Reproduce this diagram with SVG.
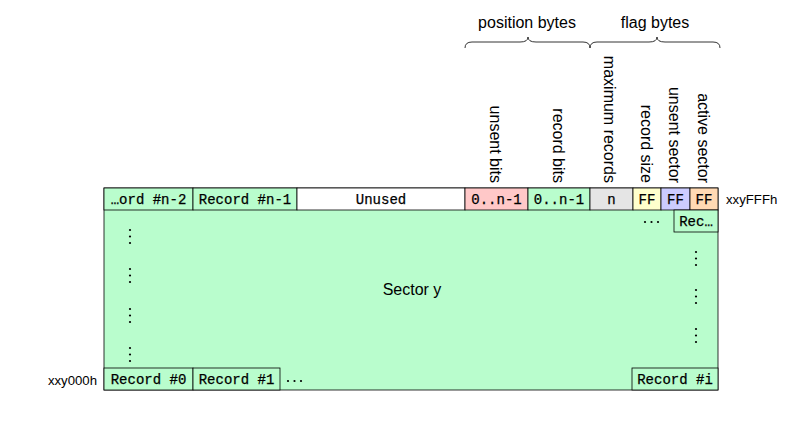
<svg xmlns="http://www.w3.org/2000/svg" width="808" height="441" viewBox="0 0 808 441">
<style>
.cell{stroke:#000;stroke-width:0.8}
.g{fill:#b9fdcd}
.mono{font-family:"Liberation Mono","DejaVu Sans Mono",monospace;font-size:14px;text-anchor:middle;fill:#000;stroke:#000;stroke-width:0.25}
.sans{font-family:"Liberation Sans",Arial,sans-serif;font-size:16px;fill:#000}
.vl{font-family:"Liberation Sans",Arial,sans-serif;font-size:16px;fill:#000;text-anchor:end;dominant-baseline:central}
.addr{font-family:"Liberation Sans",Arial,sans-serif;font-size:13.2px;fill:#000}
.brace{fill:none;stroke:#000;stroke-width:0.8}
.dot{fill:#000}
</style>
<defs>
<g id="vdots"><circle class="dot" cx="0" cy="0" r="1.1"/><circle class="dot" cx="0" cy="6.5" r="1.1"/><circle class="dot" cx="0" cy="13" r="1.1"/></g>
<g id="hdots"><circle class="dot" cx="0" cy="0" r="1.1"/><circle class="dot" cx="6.5" cy="0" r="1.1"/><circle class="dot" cx="13" cy="0" r="1.1"/></g>
</defs>
<g id="sector">
<rect class="cell g" x="104" y="188" width="614" height="202"/>
<text class="sans" x="412" y="295" text-anchor="middle" font-size="15.5">Sector y</text>
<use href="#vdots" x="130" y="230"/>
<use href="#vdots" x="130" y="269"/>
<use href="#vdots" x="130" y="309"/>
<use href="#vdots" x="130" y="348"/>
<use href="#vdots" x="696" y="252"/>
<use href="#vdots" x="696" y="290"/>
<use href="#vdots" x="696" y="329"/>
<use href="#hdots" x="645" y="222"/>
<use href="#hdots" x="288" y="381"/>
</g>
<g id="top-row">
<rect class="cell g" x="104" y="188" width="89" height="22"/>
<text class="mono" x="148.5" y="204">…ord #n-2</text>
<rect class="cell g" x="193" y="188" width="104" height="22"/>
<text class="mono" x="245" y="204">Record #n-1</text>
<rect class="cell" fill="#fff" x="297" y="188" width="168" height="22"/>
<text class="mono" x="381" y="204">Unused</text>
<rect class="cell" fill="#ffc8c8" x="465" y="188" width="63" height="22"/>
<text class="mono" x="496.5" y="204">0..n-1</text>
<rect class="cell g" x="528" y="188" width="62" height="22"/>
<text class="mono" x="559" y="204">0..n-1</text>
<rect class="cell" fill="#e5e5e5" x="590" y="188" width="43" height="22"/>
<text class="mono" x="611.5" y="204">n</text>
<rect class="cell" fill="#ffffcc" x="633" y="188" width="28" height="22"/>
<text class="mono" x="647" y="204">FF</text>
<rect class="cell" fill="#ccccff" x="661" y="188" width="29" height="22"/>
<text class="mono" x="675.5" y="204">FF</text>
<rect class="cell" fill="#ffd9b3" x="690" y="188" width="28" height="22"/>
<text class="mono" x="704" y="204">FF</text>
<rect class="cell g" x="674" y="210" width="44" height="22"/>
<text class="mono" x="696" y="226">Rec…</text>
</g>
<g id="bottom-row">
<rect class="cell g" x="104" y="368" width="89" height="22"/>
<text class="mono" x="148.5" y="384">Record #0</text>
<rect class="cell g" x="193" y="368" width="87" height="22"/>
<text class="mono" x="236.5" y="384">Record #1</text>
<rect class="cell g" x="632" y="368" width="86" height="22"/>
<text class="mono" x="675" y="384">Record #i</text>
</g>
<g id="addresses">
<text class="addr" x="726" y="203.5">xxyFFFh</text>
<text class="addr" x="97" y="384.5" text-anchor="end">xxy000h</text>
</g>
<g id="labels">
<text class="vl" transform="translate(495,183) rotate(90)">unsent bits</text>
<text class="vl" transform="translate(558,183) rotate(90)">record bits</text>
<text class="vl" transform="translate(609,183) rotate(90)">maximum records</text>
<text class="vl" transform="translate(646,183) rotate(90)">record size</text>
<text class="vl" transform="translate(674,183) rotate(90)">unsent sector</text>
<text class="vl" transform="translate(703,183) rotate(90)">active sector</text>
</g>
<g id="braces">
<path class="brace" d="M465,48 Q465,42 472,42 L520,42 Q528,42 528,37 Q528,42 536,42 L583,42 Q590,42 590,48"/>
<path class="brace" d="M590,48 Q590,42 597,42 L649,42 Q657,42 657,37 Q657,42 665,42 L713,42 Q720,42 720,48"/>
<text class="sans" x="527" y="28" text-anchor="middle">position bytes</text>
<text class="sans" x="655" y="28" text-anchor="middle">flag bytes</text>
</g>
</svg>
